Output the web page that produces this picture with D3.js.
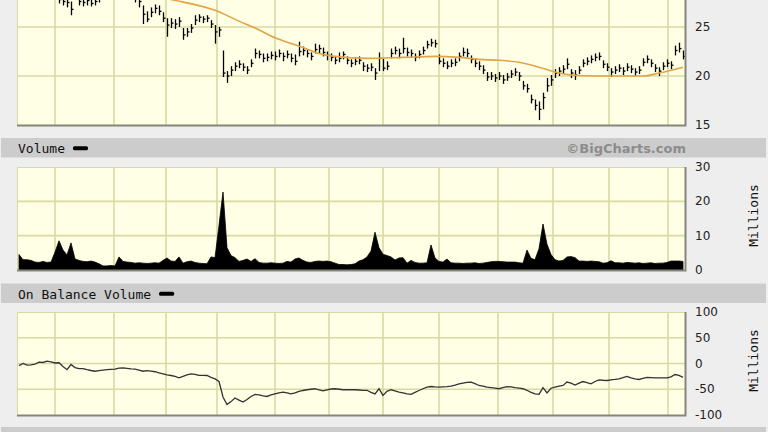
<!DOCTYPE html>
<html>
<head>
<meta charset="utf-8">
<script src="https://cdnjs.cloudflare.com/ajax/libs/d3/7.8.5/d3.min.js"></script>
<style>
  html, body { margin: 0; padding: 0; background: #eeeeee; }
  svg { display: block; }
</style>
</head>
<body>
<svg id="chart" width="768" height="432"></svg>
<script>
// ---------------------------------------------------------------------------
// Data (one entry per bar, roughly every 1.5 sessions)
// ---------------------------------------------------------------------------
const priceHigh = [
  30.0,29.8,30.1,30.3,29.9,29.5,29.4,29.7,29.3,29.1,
  28.3,28.1,28.0,27.6,28.6,28.3,28.0,28.2,27.9,28.1,
  28.4,28.9,29.3,29.6,29.9,29.5,29.2,29.7,29.4,28.6,
  28.2,27.2,26.6,27.0,27.3,27.2,26.5,25.9,25.9,25.8,
  26.0,24.9,24.9,25.3,26.2,26.3,26.1,26.2,25.7,25.2,
  25.0,22.6,20.5,21.0,21.4,21.6,21.3,21.0,21.7,22.8,
  22.6,22.3,22.3,22.5,22.5,22.7,22.4,22.6,22.3,22.2,
  23.5,23.0,22.7,22.4,23.3,23.2,22.9,22.5,22.3,22.0,
  22.4,22.5,22.0,21.7,21.9,22.0,21.4,21.2,21.3,20.8,
  22.4,21.8,21.5,22.8,23.0,22.8,23.9,22.9,22.7,22.3,
  22.6,23.0,23.6,23.8,23.7,22.2,21.8,21.5,21.7,21.8,
  22.4,22.9,22.8,22.1,21.8,21.5,21.1,20.4,20.4,20.2,
  20.4,20.1,20.3,20.6,20.8,20.4,19.5,19.2,18.1,17.6,
  17.4,18.3,19.8,20.1,20.7,20.9,21.1,21.8,20.7,20.6,
  21.0,21.7,21.9,22.1,22.3,22.4,21.6,21.3,20.8,21.0,
  21.2,20.9,21.3,21.1,20.8,21.0,21.8,22.1,21.7,21.2,
  20.9,21.4,21.7,21.5,23.1,23.4,22.6
];
const priceLow = [
  29.0,28.8,29.1,29.3,28.9,28.5,28.4,28.7,28.3,28.1,
  27.4,27.2,27.0,26.2,27.9,27.2,27.1,27.2,27.1,27.2,
  27.5,28.1,28.4,28.6,28.9,28.5,28.2,28.7,28.3,27.5,
  27.0,25.3,25.5,26.0,26.4,26.2,25.5,24.0,24.9,24.8,
  25.0,23.7,24.0,24.4,25.2,25.5,25.4,25.5,24.9,23.3,
  24.0,19.9,19.3,20.0,20.5,20.8,20.5,20.2,20.9,21.8,
  21.8,21.4,21.5,21.7,21.6,21.9,21.5,21.8,21.4,21.1,
  22.0,22.1,21.9,21.6,22.3,22.3,22.0,21.6,21.5,21.2,
  21.4,21.7,21.2,20.9,21.1,21.2,20.5,20.4,20.5,19.6,
  20.5,20.5,20.6,21.8,22.2,21.8,22.3,22.0,21.9,21.5,
  21.8,22.2,22.8,23.0,22.9,21.2,20.9,20.7,20.9,21.0,
  21.5,22.0,21.9,21.3,20.9,20.6,20.2,19.5,19.6,19.4,
  19.6,19.2,19.5,19.8,20.0,19.5,18.6,18.3,17.2,16.5,
  15.5,16.6,18.4,19.0,19.8,20.0,20.2,20.7,19.8,19.6,
  20.2,20.9,21.1,21.3,21.5,21.6,20.8,20.5,19.9,20.2,
  20.4,20.1,20.5,20.3,20.0,20.2,21.0,21.3,20.9,20.4,
  20.0,20.6,20.9,20.7,22.1,22.4,21.7
];
const priceClose = [
  29.5,29.3,29.6,29.8,29.4,29.0,28.9,29.2,28.8,28.6,
  27.8,27.6,27.5,26.8,28.2,27.6,27.5,27.7,27.4,27.6,
  27.9,28.4,28.8,29.1,29.4,29.0,28.7,29.2,28.9,28.1,
  27.6,26.3,25.8,26.5,26.9,26.6,25.9,25.2,25.4,25.3,
  25.6,24.2,24.5,24.9,25.7,26.0,25.8,25.9,25.3,24.5,
  24.7,20.3,20.0,20.6,21.0,21.2,20.9,20.6,21.3,22.3,
  22.2,21.8,21.9,22.1,22.0,22.3,22.0,22.2,21.8,21.5,
  22.5,22.6,22.3,22.0,22.7,22.8,22.4,22.1,21.9,21.6,
  21.8,22.2,21.6,21.3,21.5,21.6,21.0,20.8,20.9,20.3,
  21.8,20.8,21.0,22.3,22.6,22.3,22.8,22.4,22.3,21.9,
  22.2,22.6,23.2,23.4,23.3,21.5,21.3,21.0,21.3,21.4,
  22.0,22.4,22.3,21.7,21.3,21.0,20.6,19.9,20.0,19.8,
  20.0,19.6,19.9,20.2,20.4,20.0,19.0,18.7,17.6,17.0,
  16.6,17.8,19.0,19.6,20.3,20.5,20.7,21.2,20.3,20.1,
  20.6,21.3,21.5,21.7,21.9,22.0,21.2,20.9,20.4,20.6,
  20.8,20.5,20.9,20.7,20.4,20.6,21.4,21.7,21.3,20.8,
  20.5,21.0,21.3,21.1,22.6,22.8,22.0
];

// 50-day moving average, sampled at bar indices
const maIndex = [28, 38, 49, 55, 59, 64, 71, 75, 79, 87, 96, 104, 110, 115, 120, 125, 130, 134, 138, 144, 156, 160, 166];
const maValue = [28.6, 27.8, 26.7, 25.6, 24.9, 23.9, 22.9, 22.3, 22.0, 21.8, 21.9, 22.0, 21.9, 21.7, 21.6, 21.4, 20.9, 20.4, 20.1, 20.0, 20.0, 20.3, 20.9];

// volume, millions
const volume = [
  4.5,3.0,3.0,2.8,2.3,2.2,2.5,2.2,2.3,5.2,
  8.5,5.8,4.4,7.9,3.2,2.8,2.5,2.4,2.6,2.3,
  1.8,1.2,1.2,1.3,1.2,3.8,2.5,2.3,2.2,2.0,
  2.1,2.0,1.9,2.0,2.1,2.0,2.8,3.5,2.6,2.5,
  3.8,2.0,2.4,2.6,2.2,2.0,1.9,1.8,3.8,3.6,
  13.0,22.7,6.5,4.2,3.6,2.5,2.8,3.2,2.5,3.3,
  2.2,2.0,2.0,2.1,2.0,1.9,2.0,2.5,2.3,3.2,
  3.5,2.8,2.3,2.2,2.5,2.6,2.5,2.6,2.4,2.0,
  1.6,1.6,1.5,1.6,1.8,2.6,3.0,3.8,5.5,11.0,
  6.5,4.6,4.2,3.8,2.9,3.5,3.6,2.0,2.8,2.2,
  2.0,2.0,2.1,7.3,3.5,2.5,2.3,3.2,2.1,2.0,
  2.0,1.9,2.0,2.0,2.1,1.9,2.0,2.2,2.4,2.5,
  2.5,2.4,2.3,2.3,2.3,2.1,2.0,5.8,3.4,3.0,
  6.2,13.4,7.5,4.5,3.0,2.6,2.8,3.8,3.9,3.6,
  2.6,2.6,2.5,2.6,2.5,2.4,2.0,2.1,2.7,2.1,
  2.1,2.0,2.2,2.1,2.0,2.1,1.9,2.0,2.1,1.9,
  2.0,2.0,2.2,2.6,2.6,2.6,2.5
];

// on balance volume, millions
const obv = [
  -4,0,-3,-2.5,-1,2.6,2,4.5,3,1,
  1.5,-5.8,-12,-2,-8,-10,-10,-12,-13.6,-15,
  -14,-13,-12,-11.5,-11,-9,-8.4,-9.5,-10.5,-11,
  -13,-15,-14,-15,-16,-18,-20,-22,-23.3,-25,
  -27.8,-25,-22,-20,-21,-23,-23,-23.3,-27,-30,
  -35,-65,-79.6,-74,-67,-71,-75,-70,-64,-60,
  -61,-63,-64,-61,-59,-57,-55.7,-57,-59,-57,
  -54,-52.4,-51,-50,-49,-51,-53,-51,-49.5,-49,
  -50,-51,-51,-51,-51,-51.5,-52,-52,-56,-59,
  -49,-62,-54,-51,-53,-55.7,-57,-59,-60,-56,
  -52.4,-49,-46,-44.7,-45.5,-46,-45.5,-45,-44,-42,
  -39.5,-38,-36.5,-36.2,-39,-42.7,-44,-46,-47,-48,
  -49,-47,-45,-45.5,-47,-48,-49,-52,-56,-59,
  -60,-47,-57,-48,-46,-44,-42.7,-36,-38,-42,
  -38,-35,-37,-39.5,-35,-31.7,-32.5,-33,-32,-31,
  -29.8,-27.5,-25.2,-28,-30,-31,-29,-27,-27.5,-28,
  -28,-28,-28,-26,-21.4,-23,-27
];

// month boundaries (bar index) and axis ticks
const monthIndex = [9, 23.75, 36.75, 49.5, 64, 77.5, 91, 105, 119.75, 133.5, 147.5, 162.25];
const priceTicks = [15, 20, 25];
const volumeTicks = [0, 10, 20, 30];
const obvTicks = [-100, -50, 0, 50, 100];

// ---------------------------------------------------------------------------
(function() {
  'use strict';

  const svg = d3.select('#chart');
  const plotL = 17, plotR = 685;
  const N = priceClose.length;

  const x = d3.scaleLinear().domain([0, N - 1]).range([19, 683]);

  const panels = {
    price:  { top: -22, bottom: 125 },
    volume: { top: 167, bottom: 270 },
    obv:    { top: 312, bottom: 415 }
  };

  const yPrice = d3.scaleLinear().domain([15, 30]).range([panels.price.bottom, panels.price.top]);
  const yVol = d3.scaleLinear().domain([0, 30]).range([panels.volume.bottom, panels.volume.top]);
  const yObv = d3.scaleLinear().domain([-100, 100]).range([panels.obv.bottom, panels.obv.top]);

  const defs = svg.append('defs');

  // header bands
  function band(y0, y1, label, showLegend) {
    svg.append('rect')
      .attr('x', 1).attr('y', y0).attr('width', 765).attr('height', y1 - y0)
      .attr('fill', '#cccccc');
    if (label) {
      const t = svg.append('text')
        .attr('x', 18).attr('y', (y0 + y1) / 2 + 1)
        .attr('dominant-baseline', 'central')
        .attr('font-family', '"DejaVu Sans Mono", monospace')
        .attr('font-size', '13px')
        .attr('fill', '#111')
        .text(label);
      if (showLegend) {
        const w = t.node().getComputedTextLength();
        svg.append('rect')
          .attr('x', 18 + w + 8).attr('y', (y0 + y1) / 2 - 1.5)
          .attr('width', 15).attr('height', 4).attr('rx', 1.5)
          .attr('fill', '#000');
      }
    }
  }

  band(138, 157.5, 'Volume', true);
  band(283.5, 303, 'On Balance Volume', true);
  band(427, 440, null, false);

  svg.append('text')
    .attr('x', 686).attr('y', 148.5)
    .attr('text-anchor', 'end')
    .attr('dominant-baseline', 'central')
    .attr('font-family', '"DejaVu Sans", Verdana, sans-serif')
    .attr('font-weight', 'bold')
    .attr('font-size', '13px')
    .attr('fill', '#8c8c8c')
    .text('\u00A9BigCharts.com');

  // plot backgrounds, grids, clip
  function plotArea(name, p, y, gridVals) {
    svg.append('rect')
      .attr('x', plotL).attr('y', p.top)
      .attr('width', plotR - plotL).attr('height', p.bottom - p.top)
      .attr('fill', '#ffffe6');

    const grid = svg.append('g').attr('stroke', '#d9d9a3').attr('stroke-width', 1.6);
    grid.selectAll('line.h').data(gridVals).join('line')
      .attr('x1', plotL).attr('x2', plotR)
      .attr('y1', d => y(d)).attr('y2', d => y(d));
    grid.selectAll('line.v').data(monthIndex).join('line')
      .attr('x1', d => Math.round(x(d))).attr('x2', d => Math.round(x(d)))
      .attr('y1', p.top).attr('y2', p.bottom);

    // top / left edges
    svg.append('path')
      .attr('d', `M${plotL + 0.5},${p.bottom} V${p.top + 0.5} H${plotR}`)
      .attr('fill', 'none').attr('stroke', '#d9d9a3').attr('stroke-width', 1);

    defs.append('clipPath').attr('id', 'clip-' + name)
      .append('rect')
      .attr('x', plotL).attr('y', p.top)
      .attr('width', plotR - plotL).attr('height', p.bottom - p.top);

    return svg.append('g').attr('clip-path', `url(#clip-${name})`);
  }

  function frame(p) {
    svg.append('path')
      .attr('d', `M${plotL},${p.bottom + 0.5} H${plotR + 0.5} V${p.top}`)
      .attr('fill', 'none').attr('stroke', '#85857a').attr('stroke-width', 2);
  }

  // --- price panel
  const gPrice = plotArea('price', panels.price, yPrice, [20, 25]);
  const bars = gPrice.append('g').attr('stroke', '#000').attr('stroke-width', 1.3);
  d3.range(N).forEach(i => {
    const xi = Math.round(x(i)) + 0.5;
    bars.append('line')
      .attr('x1', xi).attr('x2', xi)
      .attr('y1', yPrice(priceHigh[i])).attr('y2', yPrice(priceLow[i]));
    bars.append('line')
      .attr('x1', xi).attr('x2', xi + 2)
      .attr('y1', yPrice(priceClose[i])).attr('y2', yPrice(priceClose[i]));
  });
  gPrice.append('path')
    .datum(maIndex.map((d, k) => [d, maValue[k]]))
    .attr('fill', 'none')
    .attr('stroke', '#e0a445')
    .attr('stroke-width', 1.6)
    .attr('d', d3.line().x(d => x(d[0])).y(d => yPrice(d[1])).curve(d3.curveMonotoneX));
  frame(panels.price);

  // --- volume panel
  const gVol = plotArea('volume', panels.volume, yVol, [10, 20]);
  gVol.append('path')
    .datum(volume)
    .attr('fill', '#000')
    .attr('stroke', '#000')
    .attr('stroke-width', 0.8)
    .attr('d', d3.area()
      .x((d, i) => x(i))
      .y0(yVol(0))
      .y1(d => yVol(d)));
  frame(panels.volume);

  // --- OBV panel
  const gObv = plotArea('obv', panels.obv, yObv, [-50, 0, 50]);
  gObv.append('path')
    .datum(obv)
    .attr('fill', 'none')
    .attr('stroke', '#333')
    .attr('stroke-width', 1.3)
    .attr('d', d3.line().x((d, i) => x(i)).y(d => yObv(d)));
  frame(panels.obv);

  // --- right axes
  function axisLabels(ticks, y, fmt) {
    svg.append('g').selectAll('text').data(ticks).join('text')
      .attr('x', 695).attr('y', d => y(d))
      .attr('dominant-baseline', 'central')
      .attr('font-family', '"DejaVu Sans", Verdana, sans-serif')
      .attr('font-size', '12px')
      .attr('fill', '#222')
      .text(fmt);
  }
  axisLabels(priceTicks, yPrice, d => d);
  axisLabels(volumeTicks, yVol, d => d);
  axisLabels(obvTicks, yObv, d => d);

  function unitLabel(p) {
    const cy = (p.top + p.bottom) / 2 - 3;
    svg.append('text')
      .attr('transform', `translate(753,${cy}) rotate(-90)`)
      .attr('text-anchor', 'middle')
      .attr('dominant-baseline', 'central')
      .attr('font-family', '"DejaVu Sans Mono", monospace')
      .attr('font-size', '13px')
      .attr('fill', '#111')
      .text('Millions');
  }
  unitLabel(panels.volume);
  unitLabel(panels.obv);
})();
</script>
</body>
</html>
